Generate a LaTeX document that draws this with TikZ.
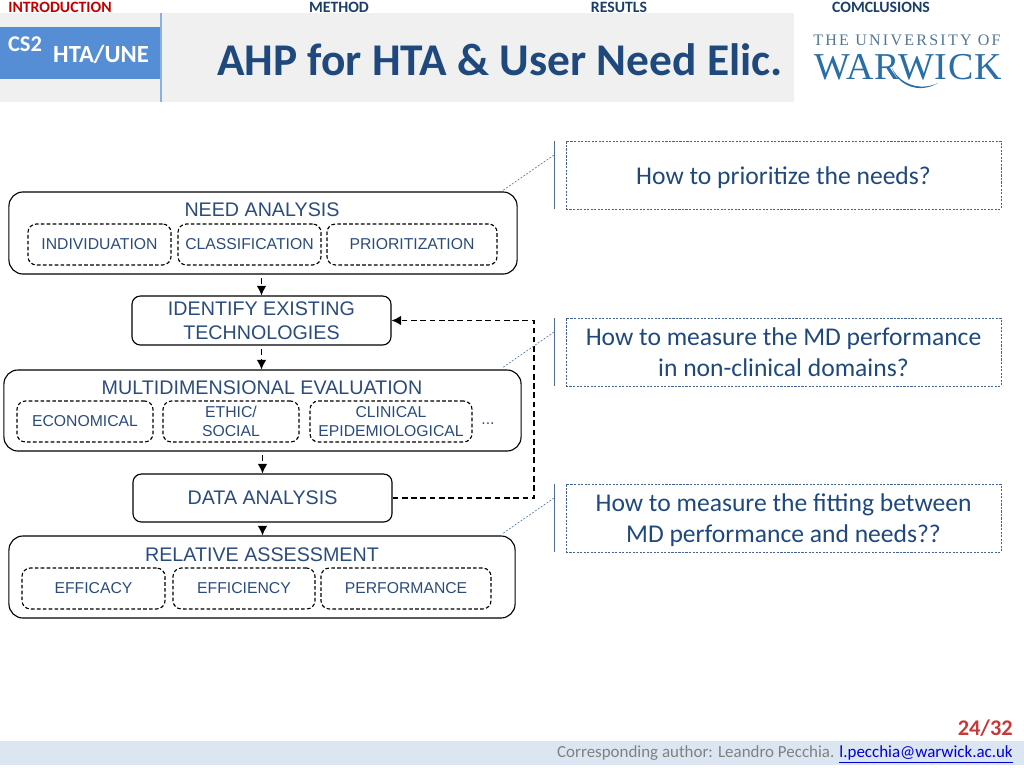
\documentclass[tikz,border=0pt]{standalone}
\usepackage{xcolor}
\usepackage{fontspec}
\setmainfont{Carlito}
\newfontfamily\archfont{Liberation Sans}
\newfontfamily\logofont[LetterSpace=14]{Liberation Serif}
\newfontfamily\logobigfont[LetterSpace=1.5]{Liberation Serif}
\usetikzlibrary{arrows.meta, positioning}
\definecolor{inkblue}{HTML}{2A4B7C}
\definecolor{titleblue}{HTML}{1F497D}
\definecolor{bandgray}{HTML}{F0F0F0}
\definecolor{tabblue}{HTML}{558ED5}
\definecolor{footband}{HTML}{DCE6F2}
\definecolor{logoblue}{HTML}{2A6EA6}
\tikzset{
  groupbox/.style={
    draw, rounded corners=10pt, line width=0.8pt, align=center,
    minimum height=2.05cm, text=inkblue
  },
  stepbox/.style={
    draw, rounded corners=6pt, line width=0.8pt, align=center,
    minimum width=6.475cm, inner sep=0pt, text=inkblue,
    font=\archfont\fontsize{14}{17}\selectfont
  },
  subbox/.style={
    draw, dash pattern=on 2.6pt off 1.6pt, rounded corners=6pt, line width=0.8pt, align=center,
    minimum height=1.025cm, inner sep=0pt, text=inkblue,
    font=\archfont\fontsize{11.2}{13.5}\selectfont
  },
  grouptitle/.style={text=inkblue, inner sep=0pt, font=\archfont\fontsize{14}{17}\selectfont},
  questionbox/.style={
    draw=titleblue!85, dash pattern=on 1.5pt off 1pt, align=center, inner sep=0pt,
    minimum width=10.875cm, minimum height=1.7cm, text=titleblue,
    font=\fontsize{18.2}{22}\selectfont
  },
  questionbar/.style={draw=titleblue!80, semithick},
  leaderline/.style={draw=titleblue!80, dash pattern=on 1.5pt off 1pt, thin},
  flowarrow/.style={-{Latex[length=2.4mm,width=2.4mm]}, dash pattern=on 4pt off 2.6pt, dash phase=4pt, thick},
  tablabel/.style={font=\bfseries\fontsize{11.2}{13}\selectfont, text=titleblue!85!black, inner sep=0pt},
}

\begin{document}
\begin{tikzpicture}[x=0.025cm, y=-0.025cm]
  \useasboundingbox (0,0) rectangle (1024,768);
  % header
  \fill[bandgray] (0,13) rectangle (794,102);
  \fill[tabblue] (0,27) rectangle (160,79);
  \draw[tabblue!70, thick] (161,13) -- (161,102);
  \node[tablabel, text=red!75!black] (tabintro) at (60,7) {INTRODUCTION};
  \node[tablabel] (tabmethod) at (339,7) {METHOD};
  \node[tablabel] (tabresults) at (619,7) {RESUTLS};
  \node[tablabel] (tabconcl) at (881,7) {COMCLUSIONS};
  \node[text=white, inner sep=0pt, font=\bfseries\fontsize{16}{19}\selectfont] (casetag) at (25,44) {CS2};
  \node[text=white, inner sep=0pt, font=\bfseries\fontsize{17.5}{20}\selectfont] (casename) at (101,54) {HTA/UNE};
  \node[text=titleblue, inner sep=0pt, font=\bfseries\fontsize{32.3}{37}\selectfont] (title) at (500,60) {AHP for HTA \& User Need Elic.};
  % logo
  \node[text=logoblue!55!gray, inner sep=0pt, font=\logofont\fontsize{11.4}{13}\selectfont] (logotop) at (907,40) {THE UNIVERSITY OF};
  \node[text=logoblue, inner sep=0pt, font=\logobigfont\fontsize{27}{30}\selectfont] (logoname) at (908,67) {WARWICK};
  \fill[logoblue] (892,68) .. controls (897,84) and (918,95) .. (938,83) .. controls (919,92) and (899,83) .. (892,68);

  % flow on the left
  \node[groupbox, minimum width=12.7cm] (need) at (263,233) {};
  \node[grouptitle] (needtitle) at (262,210) {NEED ANALYSIS};
  \node[subbox, minimum width=3.575cm] (individ) at (99.5,244.5) {INDIVIDUATION};
  \node[subbox, minimum width=3.575cm] (classif) at (249.5,244.5) {CLASSIFICATION};
  \node[subbox, minimum width=4.25cm] (priorit) at (412,244.5) {PRIORITIZATION};

  \node[stepbox, minimum height=1.225cm] (identify) at (261.5,320.5) {IDENTIFY EXISTING\\TECHNOLOGIES};

  \node[groupbox, minimum width=12.925cm, minimum height=2.025cm] (multi) at (262.5,410.5) {};
  \node[grouptitle] (multititle) at (262,388) {MULTIDIMENSIONAL EVALUATION};
  \node[subbox, minimum width=3.4cm] (econ) at (85,421.5) {ECONOMICAL};
  \node[subbox, minimum width=3.4cm] (ethic) at (231,421.5) {ETHIC/\\SOCIAL};
  \node[subbox, minimum width=4.05cm] (clinic) at (391,421.5) {CLINICAL\\EPIDEMIOLOGICAL};
  \node[text=inkblue, inner sep=0pt, font=\archfont\fontsize{11.2}{13.5}\selectfont] (moredots) at (488,424) {...};

  \node[stepbox, minimum height=1.2cm] (data) at (262.5,498) {DATA ANALYSIS};

  \node[groupbox, minimum width=12.65cm] (relative) at (262,577) {};
  \node[grouptitle] (relativetitle) at (262,555) {RELATIVE ASSESSMENT};
  \node[subbox, minimum width=3.575cm] (efficacy) at (93.5,588.5) {EFFICACY};
  \node[subbox, minimum width=3.55cm] (efficiency) at (244,588.5) {EFFICIENCY};
  \node[subbox, minimum width=4.25cm] (perform) at (406,588.5) {PERFORMANCE};

  \draw[flowarrow] (need.south -| identify.north) -- (identify.north);
  \draw[flowarrow] (identify) -- (multi.north -| identify);
  \draw[flowarrow] (multi.south -| data.north) -- (data.north);
  \draw[flowarrow] (data.south) -- (relative.north -| data.south);
  \draw[flowarrow, dash phase=0pt] (data.east) -- (534,498) |- (identify.east);

  % questions on the right
  \node[questionbox] (askneeds) at (783.5,175) {\rule{0pt}{17pt}How to prioritize the needs?};
  \node[questionbox] (askperf) at (783.5,352) {How to measure the MD performance\\in non-clinical domains?};
  \node[questionbox] (askfit) at (783.5,518) {\rule{0pt}{15.8pt}How to measure the fitting between\\MD performance and needs??};

  \coordinate (barneedstop) at (554,141);
  \coordinate (barneedsend) at (554,209);
  \coordinate (barneedsmid) at (554,155);
  \coordinate (footneeds) at (502,191);
  \coordinate (barperftop) at (554,318);
  \coordinate (barperfend) at (554,386);
  \coordinate (barperfmid) at (554,332);
  \coordinate (footperf) at (502,368);
  \coordinate (barfittop) at (554,484);
  \coordinate (barfitend) at (554,552);
  \coordinate (barfitmid) at (554,498);
  \coordinate (footfit) at (502,534);
  \draw[questionbar] (barneedstop) -- (barneedsend);
  \draw[questionbar] (barperftop) -- (barperfend);
  \draw[questionbar] (barfittop) -- (barfitend);
  \draw[leaderline] (barneedsmid) -- (footneeds);
  \draw[leaderline] (barperfmid) -- (footperf);
  \draw[leaderline] (barfitmid) -- (footfit);

  % footer
  \fill[footband] (0,741) rectangle (1024,765);
  \node[anchor=east, inner sep=0pt, text=red!55!gray, font=\bfseries\fontsize{15.9}{19}\selectfont] (pagenum) at (1013,728) {24/32};
  \node[anchor=east, inner sep=0pt, text=gray, font=\fontsize{12.05}{14}\selectfont] (author) at (1013,754) {Corresponding author: Leandro Pecchia. {\color{blue!85!black}\underline{l.pecchia@warwick.ac.uk}}};
\end{tikzpicture}
\end{document}
